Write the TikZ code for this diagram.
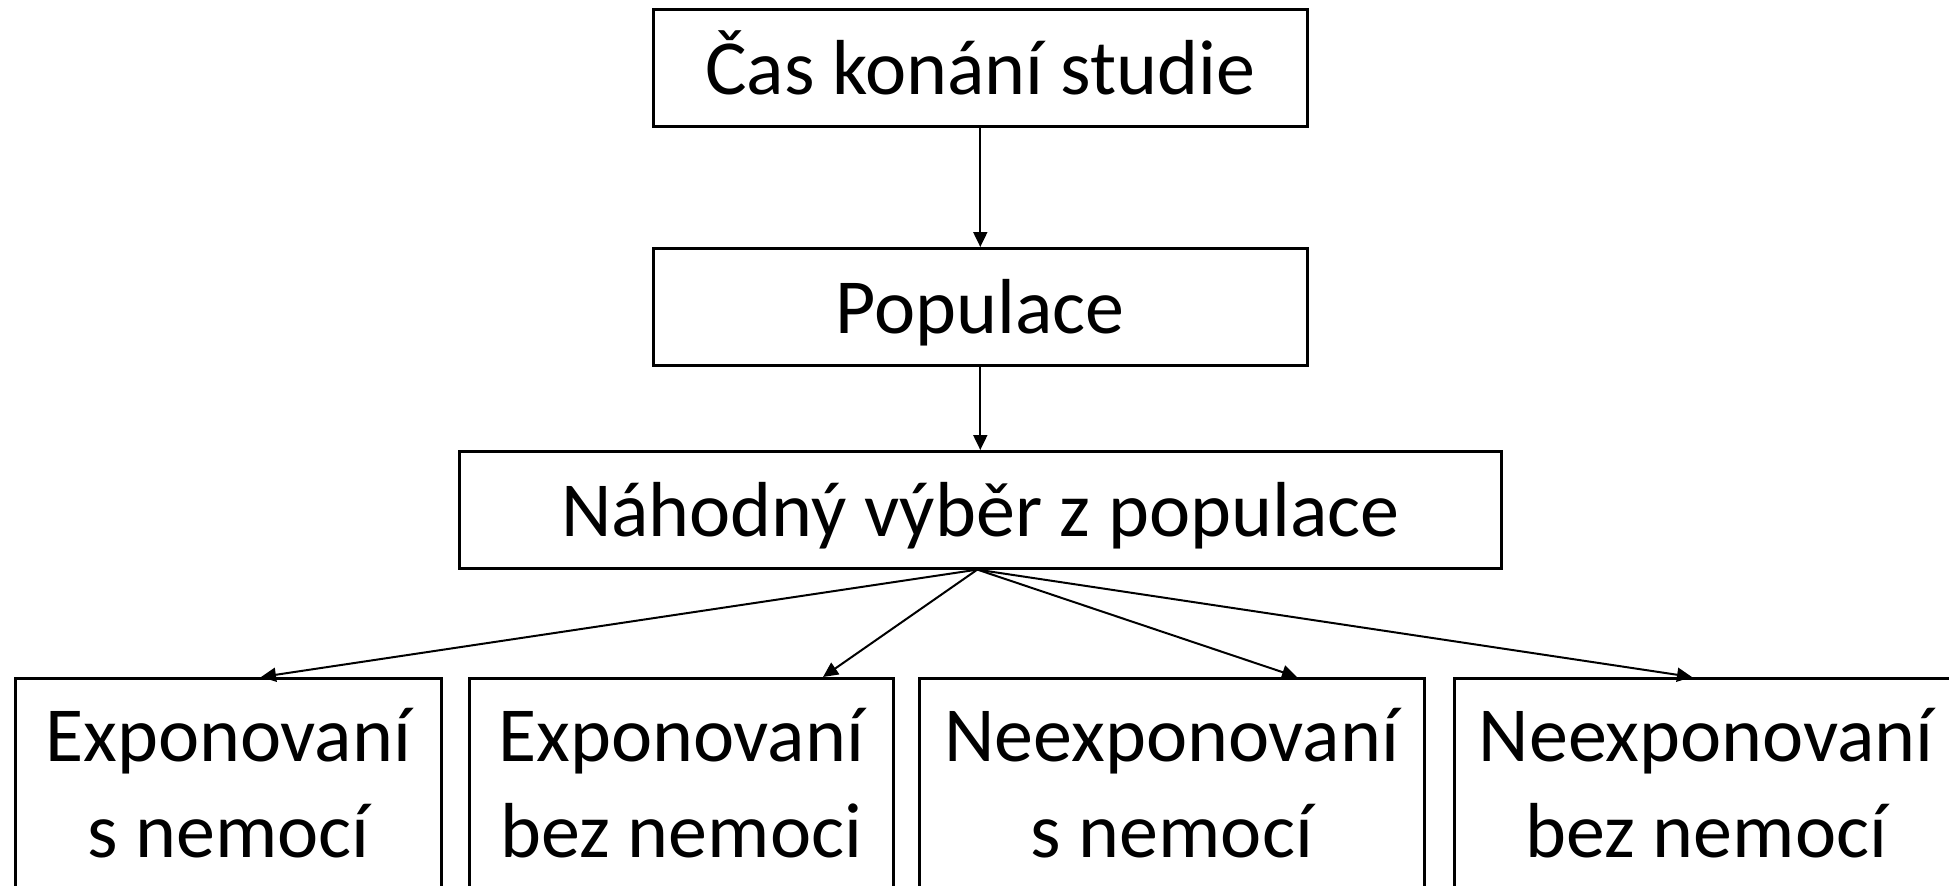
\documentclass[tikz,border=0pt]{standalone}
\usepackage{fontspec}
\setmainfont{Carlito}
\usetikzlibrary{arrows.meta}
\begin{document}
\begin{tikzpicture}[x=1pt,y=-1pt,
  box/.style={draw, line width=2.6pt, inner sep=0pt, anchor=north west,
    font=\fontsize{78}{94}\selectfont, text height=85pt, text depth=32pt},
  lbl/.style={inner sep=0pt, anchor=base, font=\fontsize{78}{94}\selectfont},
  arr/.style={line width=2pt, -{Triangle[length=15pt,width=14pt]}}]
  \useasboundingbox (0,0) rectangle (1949,886);
  \fill[white] (0,0) rectangle (1949,886);

  % main chain
  \node[box, minimum width=654pt] (cas) at (652,8) {Čas konání studie};
  \node[box, minimum width=654pt] (pop) at (652,247) {Populace};
  \node[box, minimum width=1042pt] (nah) at (458,450) {Náhodný výběr z populace};

  % four groups
  \node[box, minimum width=426pt, minimum height=210pt] (e1) at (14,677) {};
  \node[box, minimum width=424pt, minimum height=210pt] (e2) at (468,677) {};
  \node[box, minimum width=505pt, minimum height=210pt] (e3) at (918,677) {};
  \node[box, minimum width=504pt, minimum height=210pt] (e4) at (1453,677) {};

  \node[lbl] (e1a) at ([yshift=-84pt]e1.north) {Exponovaní};
  \node[lbl] (e1b) at ([yshift=-180pt]e1.north) {s nemocí};
  \node[lbl] (e2a) at ([yshift=-84pt]e2.north) {Exponovaní};
  \node[lbl] (e2b) at ([yshift=-180pt]e2.north) {bez nemoci};
  \node[lbl] (e3a) at ([yshift=-84pt]e3.north) {Neexponovaní};
  \node[lbl] (e3b) at ([yshift=-180pt]e3.north) {s nemocí};
  \node[lbl] (e4a) at ([yshift=-84pt]e4.north) {Neexponovaní};
  \node[lbl] (e4b) at ([yshift=-180pt]e4.north) {bez nemocí};

  % connectors
  \draw[arr] (cas.south) -- (pop.north);
  \draw[arr] (pop.south) -- (nah.north);
  \coordinate (fan) at ([xshift=-3pt]nah.south);
  \draw[arr] (fan) -- ([xshift=247pt]e1.north west);
  \draw[arr] (fan) -- ([xshift=355pt]e2.north west);
  \draw[arr] (fan) -- ([xshift=379pt]e3.north west);
  \draw[arr] (fan) -- ([xshift=239pt]e4.north west);
\end{tikzpicture}
\end{document}
